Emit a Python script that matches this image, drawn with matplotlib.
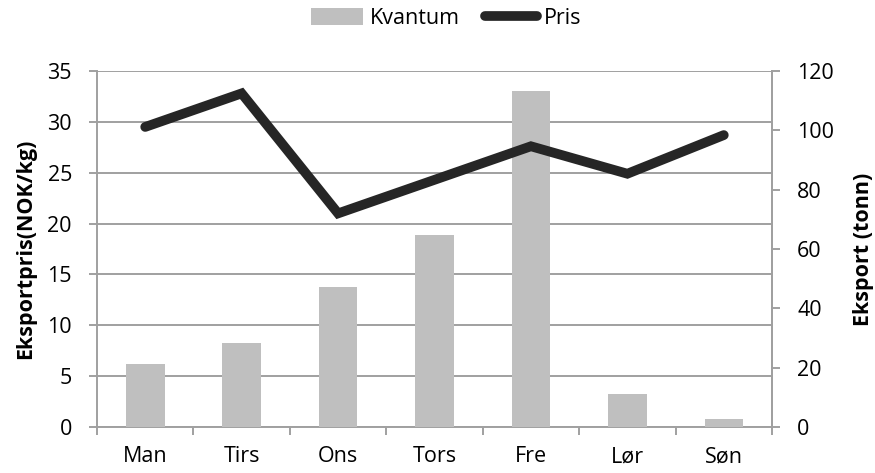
import matplotlib
matplotlib.use("Agg")
import matplotlib.pyplot as plt
import numpy as np
from matplotlib.ticker import FixedLocator

plt.rcParams['font.family'] = ['Open Sans', 'DejaVu Sans']

days = ["Man", "Tirs", "Ons", "Tors", "Fre", "Lør", "Søn"]
kvantum = [21.2, 28.2, 47.3, 64.7, 113.4, 11.1, 2.7]   # tonn (right axis)
pris = [29.5, 32.8, 21.0, 24.3, 27.6, 24.9, 28.7]      # NOK/kg (left axis)

left_ticks = [0, 5, 10, 15, 20, 25, 30, 35]
right_ticks = [0, 20, 40, 60, 80, 100, 120]

grid_col = "#a0a0a0"
bar_col = "#bfbfbf"
line_col = "#262626"
fs = 15.5

fig = plt.figure(figsize=(8.75, 4.73), dpi=100)
W, H = 875, 473
ax = fig.add_axes([97 / W, (H - 427) / H, (772 - 97) / W, (427 - 71) / H])
x = np.arange(len(days))

# base axis: price scale + grid
ax.set_ylim(0, 35)
ax.set_xlim(-0.5, len(days) - 0.5)
ax.set_yticks(left_ticks)
ax.yaxis.grid(True, color=grid_col, linewidth=1.4)
ax.set_axisbelow(True)
ax.set_xticks(x)
ax.set_xticklabels(days, fontsize=fs)
ax.xaxis.set_minor_locator(FixedLocator(np.arange(-0.5, len(days), 1.0)))
ax.tick_params(axis='x', which='major', length=0, pad=14)
ax.tick_params(axis='x', which='minor', length=6, color=grid_col, width=1.4, direction='out')
ax.tick_params(axis='y', length=6, color=grid_col, width=1.4, labelsize=fs, pad=12)
ax.spines['top'].set_visible(False)
for s in ['left', 'bottom', 'right']:
    ax.spines[s].set_color(grid_col)
    ax.spines[s].set_linewidth(1.4)
ax.set_ylabel("Eksportpris(NOK/kg)", fontsize=fs, fontweight='bold', labelpad=8)

# bars on right axis
ax2 = ax.twinx()
ax2.set_ylim(0, 120)
ax2.set_yticks(right_ticks)
bars = ax2.bar(x, kvantum, width=0.4, color=bar_col, label="Kvantum", zorder=2)
ax2.tick_params(axis='y', length=6, color=grid_col, width=1.4, labelsize=fs, pad=12)
for s in ['top', 'left', 'bottom']:
    ax2.spines[s].set_visible(False)
ax2.spines['right'].set_color(grid_col)
ax2.spines['right'].set_linewidth(1.4)
ax2.set_ylabel("Eksport (tonn)", fontsize=fs, fontweight='bold', labelpad=14)

# line on top, price scale
ax3 = ax.twinx()
ax3.set_ylim(0, 35)
ax3.set_yticks([])
for s in ax3.spines.values():
    s.set_visible(False)
ln, = ax3.plot(x, pris, color=line_col, linewidth=7, solid_capstyle='round',
               solid_joinstyle='miter', label="Pris")

fig.legend([bars, ln], ["Kvantum", "Pris"], loc='upper center', bbox_to_anchor=(0.51, 1.025),
           ncol=2, frameon=False, fontsize=fs, handlelength=2.4, handleheight=0.9,
           handletextpad=0.3, columnspacing=1.2)

fig.savefig("out.png", dpi=100)
